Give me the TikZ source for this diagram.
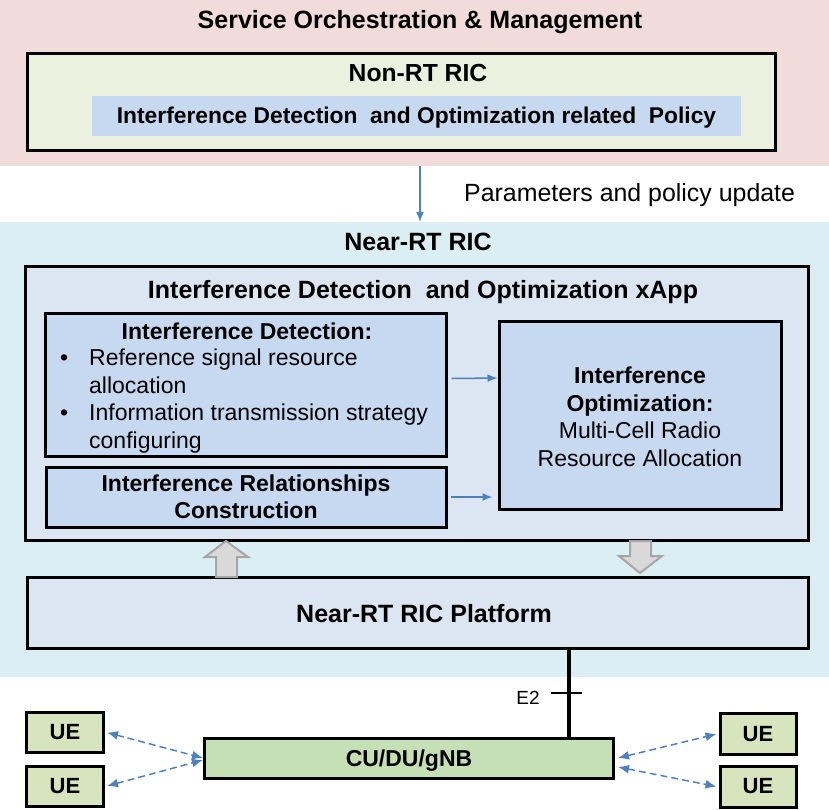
\documentclass[tikz,border=0pt]{standalone}
\usepackage{fontspec}
\setmainfont{Liberation Sans}
\usepackage{xcolor}
\usepackage{tikz}
\usetikzlibrary{arrows,arrows.meta,positioning}

\definecolor{sompink}{HTML}{F2DCDB}
\definecolor{nonrtfill}{HTML}{EBF1DE}
\definecolor{policyfill}{HTML}{C6D9F1}
\definecolor{nearbg}{HTML}{DBEEF4}
\definecolor{xappfill}{HTML}{DCE6F2}
\definecolor{cufill}{HTML}{C5E0B4}
\definecolor{uefill}{HTML}{D7E4BD}
\definecolor{linkblue}{HTML}{4F81BD}
\definecolor{hollowfill}{HTML}{D9D9D9}
\definecolor{hollowdraw}{HTML}{A6A6A6}

\newcommand{\fs}[2]{\fontsize{#1}{#2}\selectfont}

\begin{document}
\begin{tikzpicture}[x=1pt,y=-1pt,
    box/.style={draw, line width=3pt, inner sep=0pt},
    area/.style={inner sep=0pt, outer sep=0pt}]
        \tikzstyle{head} = [font=\fs{25}{29}\bfseries, inner sep=0pt]
        \tikzstyle{body} = [font=\fs{23}{27.5}, inner sep=0pt, align=center]
        \tikzstyle{link} = [draw=linkblue, line width=1.5pt, -{Latex[length=10pt,width=8pt]}]
        \tikzstyle{radio} = [draw=linkblue, line width=1.5pt, dash pattern=on 7pt off 4pt, {Latex[length=11pt,width=9pt]}-{Latex[length=11pt,width=9pt]}]
        \tikzstyle{hollow} = [fill=hollowfill, draw=hollowdraw, line width=2pt]
        \useasboundingbox (0,0) rectangle (829,809);

        % background areas
        \node[area, fill=sompink, minimum width=829, minimum height=166] (som) at (414.5,83) {};
        \node[area, fill=nearbg, minimum width=829, minimum height=455] (near) at (414.5,449.5) {};
        \node[head] (somtitle) at (420,22) {Service Orchestration \& Management};
        \node[head] (neartitle) at (418,242) {Near-RT RIC};

        % Non-RT RIC
        \node[box, fill=nonrtfill, minimum width=748, minimum height=97] (nonrt) at (401,101.5) {};
        \node[head, font=\fs{24.7}{29}\bfseries] (nonrttitle) at (418,73) {Non-RT RIC};
        \node[area, fill=policyfill, minimum width=649, minimum height=40] (policy) at (416.5,116) {};
        \node[head, font=\fs{22.8}{27}\bfseries] (policytext) at (416.5,118) {Interference Detection\ \ and Optimization related\ \ Policy};

        \draw[link] ([xshift=5.5]som.south) -- ([xshift=5.5]near.north);
        \node[body, anchor=west, font=\fs{24.9}{29}] (update) at (464,195) {Parameters and policy update};

        % xApp
        \node[box, fill=xappfill, minimum width=783, minimum height=274] (xapp) at (416.5,403) {};
        \node[head] (xapptitle) at (423,292) {Interference Detection\ \ and Optimization xApp};

        \node[box, fill=policyfill, minimum width=401, minimum height=143] (detect) at (245.5,384.5) {};
        \node[head, font=\fs{23}{27.5}\bfseries] (detecttitle) at (247,331) {Interference Detection:};
        \node[body, align=left, anchor=base west] (detectlist) at (60,448)
            {\makebox[29pt][l]{\textbullet}Reference signal resource\\
             \hspace*{29pt}allocation\\
             \makebox[29pt][l]{\textbullet}Information transmission strategy\\
             \hspace*{29pt}configuring};

        \node[box, fill=policyfill, minimum width=400, minimum height=60, font=\fs{23}{27.5}\bfseries, align=center] (relation) at (246,497)
            {Interference Relationships\\Construction};

        \node[box, fill=policyfill, minimum width=282, minimum height=188] (optim) at (640,415) {};
        \node[body] (optimtext) at (640,417)
            {\textbf{Interference}\\\textbf{Optimization:}\\Multi-Cell Radio\\Resource Allocation};

        \draw[link] ([xshift=4,yshift=6]detect.east) -- ([yshift=37]optim.west);
        \draw[link] ([xshift=3]relation.east) -- ([xshift=-5,yshift=-82]optim.west);

        % platform
        \node[box, fill=xappfill, minimum width=781, minimum height=71] (platform) at (417.5,612.5) {};
        \node[head] (platformtext) at (424,614) {Near-RT RIC Platform};

        \draw[hollow] (226,541) -- (248,557) -- (237,557) -- (237,577) -- (216,577) -- (216,557) -- (205,557) -- cycle;
        \draw[hollow] (640,573) -- (662,556) -- (651,556) -- (651,541) -- (630,541) -- (630,556) -- (619,556) -- cycle;

        % RAN
        \node[box, fill=cufill, minimum width=409, minimum height=40, text depth=0pt, font=\fs{23}{27}\bfseries] (cu) at (409,758) {CU/DU/gNB};
        \node[box, fill=uefill, minimum width=77, minimum height=40, font=\fs{22}{26}\bfseries] (ue1) at (65,732.5) {UE};
        \node[box, fill=uefill, minimum width=77, minimum height=40, font=\fs{22}{26}\bfseries] (ue2) at (65,786) {UE};
        \node[box, fill=uefill, minimum width=76, minimum height=41, font=\fs{22}{26}\bfseries] (ue3) at (758,734) {UE};
        \node[box, fill=uefill, minimum width=76, minimum height=41, font=\fs{22}{26}\bfseries] (ue4) at (758,786.5) {UE};

        \coordinate (e2x) at (569,0);
        \draw[line width=4pt] (platform.south -| e2x) -- (cu.north -| e2x);
        \draw[line width=1.5pt] (551,693) -- (582,693);
        \node[body, font=\fs{19}{22}] (e2) at (528,698) {E2};

        \draw[radio] ([xshift=2]ue1.east) -- (cu.west);
        \draw[radio] ([xshift=2]ue2.east) -- ([yshift=-2]cu.west);
        \draw[radio] ([xshift=3]cu.east) -- ([xshift=-2]ue3.west);
        \draw[radio] ([xshift=3,yshift=-9]cu.east) -- ([xshift=-2]ue4.west);
\end{tikzpicture}
\end{document}
